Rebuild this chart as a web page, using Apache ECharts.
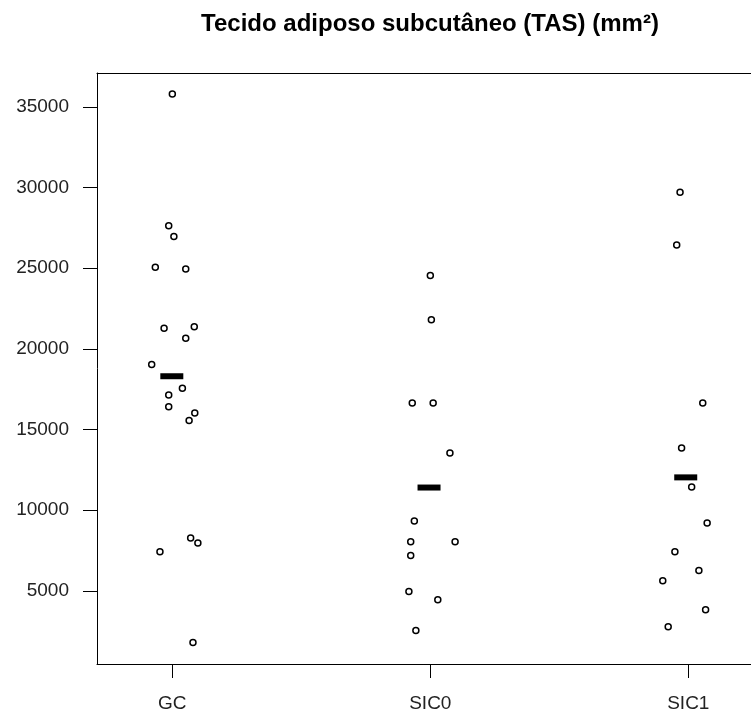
<!DOCTYPE html>
<html>
<head>
<meta charset="utf-8">
<script src="https://cdn.jsdelivr.net/npm/echarts@6/dist/echarts.min.js"></script>
<style>
  html, body { margin: 0; padding: 0; background: #fff; }
  #chart { width: 751px; height: 715px; }
</style>
</head>
<body>
<div id="chart"></div>
<script>
// grupos e valores (x = posição com jitter)
var groups = ['GC', 'SIC0', 'SIC1'];
var gcX = [1.0, 0.986, 1.006, 0.934, 1.052, 0.968, 1.085, 1.052, 0.920, 1.039, 0.986, 0.986, 1.087, 1.065, 1.071, 1.099, 0.952, 1.080];
var gcY = [35800, 27630, 26970, 25050, 24950, 21270, 21370, 20650, 19030, 17550, 17140, 16410, 16020, 15560, 8270, 7960, 7420, 1800];
var sic0X = [2.0, 2.004, 1.930, 2.011, 2.076, 1.938, 1.924, 2.096, 1.924, 1.917, 2.029, 1.944];
var sic0Y = [24550, 21800, 16640, 16640, 13540, 9320, 8040, 8040, 7190, 4960, 4450, 2540];
var sic1X = [2.968, 2.955, 3.056, 2.974, 3.013, 3.073, 2.948, 3.041, 2.901, 3.067, 2.922];
var sic1Y = [29700, 26440, 16640, 13850, 11430, 9200, 7420, 6260, 5620, 3830, 2770];
var meanX = [0.998, 1.995, 2.99];
var meanY = [18300, 11400, 12030];
var yTicks = [5000, 10000, 15000, 20000, 25000, 30000, 35000];

function pairs(xs, ys) {
    return xs.map(function (x, i) { return [x, ys[i]]; });
}

var chart = echarts.init(document.getElementById('chart'));

var pointStyle = {
    color: 'rgba(255,255,255,0)',
    borderColor: '#000',
    borderWidth: 1.5,
    opacity: 1
};

var option = {
    animation: false,
    backgroundColor: '#fff',
    textStyle: { fontFamily: 'Liberation Sans, Arial, sans-serif' },
    title: {
        text: 'Tecido adiposo subcutâneo (TAS) (mm²)',
        left: 430,
        top: 12,
        padding: 0,
        textAlign: 'center',
        textStyle: {
            fontFamily: 'Liberation Sans, Arial, sans-serif',
            fontSize: 24,
            fontWeight: 'bold',
            color: '#000'
        }
    },
    grid: {
        left: 97,
        right: 0,
        top: 73,
        bottom: 51,
        containLabel: false
    },
    xAxis: [
        {
            type: 'value',
            min: 0.708,
            max: 3.243,
            axisLine: { show: true, lineStyle: { color: '#000', width: 1 } },
            axisTick: { show: true, length: 14, customValues: [1, 2, 3], lineStyle: { color: '#000' } },
            axisLabel: {
                customValues: [1, 2, 3],
                formatter: function (v) { return groups[Math.round(v) - 1]; },
                fontSize: 19,
                color: '#222',
                margin: 30
            },
            splitLine: { show: false }
        },
        {
            // linha superior da caixa
            type: 'value',
            position: 'top',
            min: 0.708,
            max: 3.243,
            axisLine: { show: true, onZero: false, lineStyle: { color: '#000', width: 1 } },
            axisTick: { show: false },
            axisLabel: { show: false },
            splitLine: { show: false }
        }
    ],
    yAxis: {
        type: 'value',
        min: 460,
        max: 37100,
        axisLine: { show: true, lineStyle: { color: '#000', width: 1 } },
        axisTick: { show: true, length: 14, customValues: yTicks, lineStyle: { color: '#000' } },
        axisLabel: {
            customValues: yTicks,
            formatter: function (v) { return String(v); },
            fontSize: 19,
            color: '#222',
            margin: 28
        },
        splitLine: { show: false }
    },
    series: [
        {
            name: 'GC', type: 'scatter', symbol: 'circle', symbolSize: 6,
            itemStyle: pointStyle, data: pairs(gcX, gcY)
        },
        {
            name: 'SIC0', type: 'scatter', symbol: 'circle', symbolSize: 6,
            itemStyle: pointStyle, data: pairs(sic0X, sic0Y)
        },
        {
            name: 'SIC1', type: 'scatter', symbol: 'circle', symbolSize: 6,
            itemStyle: pointStyle, data: pairs(sic1X, sic1Y)
        },
        {
            name: 'média', type: 'scatter', symbol: 'rect', symbolSize: [23, 6],
            itemStyle: { color: '#000', opacity: 1 }, data: pairs(meanX, meanY), z: 3
        }
    ]
};

chart.setOption(option);
window.addEventListener('resize', function () {
    chart.resize();
});
</script>
</body>
</html>
